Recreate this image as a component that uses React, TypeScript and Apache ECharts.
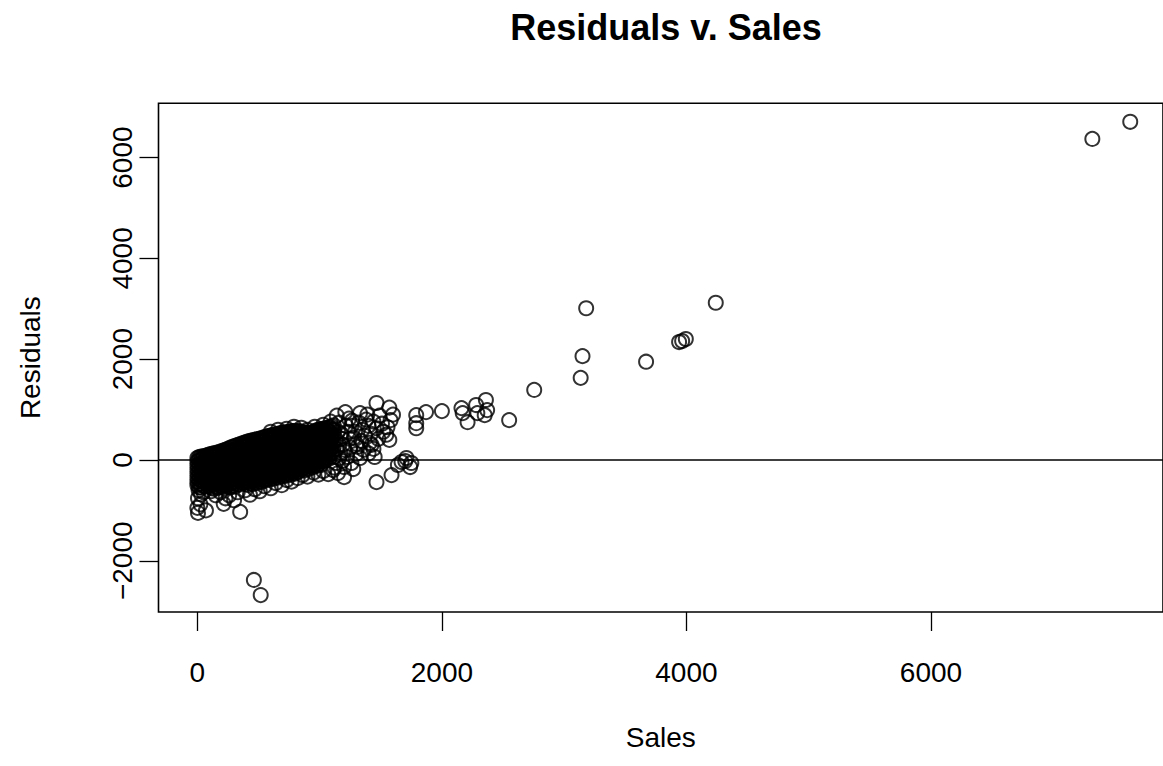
import React, { useEffect, useRef } from "react";
import * as echarts from "echarts";

const FONT = "'Liberation Sans', Arial, Helvetica, sans-serif";

const titleText = "Residuals v. Sales";
const xName = "Sales";
const yName = "Residuals";
const xTicks = [0, 2000, 4000, 6000];
const yTicks = [-2000, 0, 2000, 4000, 6000];

// Dense cloud near the origin: [sales, residuals of that sales column]
const clusterColumns: [number, number[]][] = [
  [0, [40, -30, -110, -190, -270, -350, -430, -500]],
  [30, [70, 0, -80, -160, -240, -320, -400, -480, -550]],
  [65, [80, 10, -60, -140, -220, -300, -380, -460, -530]],
  [100, [110, 30, -40, -120, -200, -280, -360, -440, -520]],
  [135, [130, 60, -20, -100, -180, -260, -340, -420, -500, -570]],
  [170, [150, 80, 0, -80, -160, -240, -320, -400, -480, -550]],
  [205, [180, 110, 30, -50, -130, -210, -290, -370, -450, -530]],
  [240, [210, 130, 50, -30, -110, -190, -270, -350, -430, -510]],
  [275, [250, 170, 90, 10, -70, -150, -230, -310, -390, -470, -540]],
  [310, [280, 200, 120, 40, -40, -120, -200, -280, -360, -440, -520]],
  [345, [310, 230, 150, 70, -10, -90, -170, -250, -330, -410, -490]],
  [380, [340, 260, 180, 100, 20, -60, -140, -220, -300, -380, -460]],
  [415, [370, 290, 210, 130, 50, -30, -110, -190, -270, -350, -430, -500]],
  [450, [390, 310, 230, 150, 70, -10, -90, -170, -250, -330, -410, -480]],
  [485, [410, 330, 250, 170, 90, 10, -70, -150, -230, -310, -390, -460]],
  [520, [430, 350, 270, 190, 110, 30, -50, -130, -210, -290, -370, -440]],
  [555, [460, 380, 300, 220, 140, 60, -20, -100, -180, -260, -340, -410]],
  [590, [480, 400, 320, 240, 160, 80, 0, -80, -160, -240, -320, -390]],
  [625, [500, 420, 340, 260, 180, 100, 20, -60, -140, -220, -300, -370]],
  [660, [520, 440, 360, 280, 200, 120, 40, -40, -120, -200, -280, -350]],
  [695, [540, 460, 380, 300, 220, 140, 60, -20, -100, -180, -260, -330]],
  [730, [550, 470, 390, 310, 230, 150, 70, -10, -90, -170, -250, -310]],
  [765, [570, 490, 410, 330, 250, 170, 90, 10, -70, -150, -230, -290]],
  [800, [580, 500, 420, 340, 260, 180, 100, 20, -60, -140, -210, -270]],
  [835, [570, 490, 410, 330, 250, 170, 90, 10, -70, -150, -220]],
  [870, [550, 470, 390, 310, 230, 150, 70, -10, -90, -160, -210]],
  [905, [530, 450, 370, 290, 210, 130, 50, -30, -110, -180]],
  [940, [550, 470, 390, 310, 230, 150, 70, -10, -90, -150]],
  [975, [590, 510, 430, 350, 270, 190, 110, 30, -50, -120]],
  [1010, [610, 530, 450, 370, 290, 210, 130, 50, -30, -100]],
  [1045, [630, 550, 470, 390, 310, 230, 150, 70, -10]],
  [1080, [650, 560, 470, 380, 290, 200, 110, 30]],
  [1115, [690, 590, 480, 370, 260, 150, 60]],
];

// More points of the same cloud, lying between the columns above
const clusterColumnsB: [number, number[]][] = [
  [15, [60, 10, -70, -150, -230, -310, -390, -470, -540]],
  [48, [75, 40, -40, -120, -200, -280, -360, -440, -510]],
  [82, [95, 50, -20, -100, -180, -260, -340, -420, -500]],
  [117, [120, 70, -10, -80, -160, -240, -320, -400, -480, -550]],
  [152, [140, 100, 20, -60, -140, -220, -300, -380, -460, -530]],
  [187, [165, 120, 40, -40, -120, -200, -280, -360, -440, -510]],
  [222, [195, 150, 70, -10, -90, -170, -250, -330, -410, -490, -560]],
  [257, [230, 170, 90, 10, -70, -150, -230, -310, -390, -470, -540]],
  [292, [265, 200, 130, 50, -30, -110, -190, -270, -350, -430, -500]],
  [327, [295, 240, 160, 80, 0, -80, -160, -240, -320, -400, -480]],
  [362, [325, 270, 190, 110, 30, -50, -130, -210, -290, -370, -450]],
  [397, [355, 300, 220, 140, 60, -20, -100, -180, -260, -340, -420, -480]],
  [432, [380, 330, 250, 170, 90, 10, -70, -150, -230, -310, -390, -460]],
  [467, [400, 350, 270, 190, 110, 30, -50, -130, -210, -290, -370, -440]],
  [502, [420, 370, 290, 210, 130, 50, -30, -110, -190, -270, -350, -420]],
  [537, [445, 390, 310, 230, 150, 70, -10, -90, -170, -250, -330, -400]],
  [572, [470, 420, 340, 260, 180, 100, 20, -60, -140, -220, -300, -370]],
  [607, [490, 440, 360, 280, 200, 120, 40, -40, -120, -200, -280, -350]],
  [642, [510, 460, 380, 300, 220, 140, 60, -20, -100, -180, -260, -330]],
  [677, [530, 480, 400, 320, 240, 160, 80, 0, -80, -160, -240, -310]],
  [712, [545, 500, 420, 340, 260, 180, 100, 20, -60, -140, -220, -290]],
  [747, [560, 510, 430, 350, 270, 190, 110, 30, -50, -130, -210, -270]],
  [782, [575, 530, 450, 370, 290, 210, 130, 50, -30, -110, -190, -250]],
  [817, [575, 530, 450, 370, 290, 210, 130, 50, -30, -110, -180, -240]],
  [852, [560, 510, 430, 350, 270, 190, 110, 30, -50, -120, -190]],
  [887, [540, 490, 410, 330, 250, 170, 90, 10, -60, -130]],
  [922, [540, 490, 410, 330, 250, 170, 90, 10, -60, -130]],
  [957, [570, 510, 430, 350, 270, 190, 110, 30, -40, -110]],
  [992, [600, 550, 470, 390, 310, 230, 150, 70, -10, -80]],
  [1027, [620, 570, 490, 410, 330, 250, 170, 90, 20]],
  [1062, [640, 590, 510, 430, 350, 270, 190, 110, 40]],
  [1097, [670, 610, 520, 420, 330, 240, 150]],
];

// Scattered points below the dense cloud
const lowerFringe: [number, number][] = [
  [10, -600], [30, -680], [5, -760], [50, -640], [0, -950], [25, -880], [70, -1000],
  [5, -1050], [110, -620], [150, -700], [190, -640], [215, -870], [230, -760],
  [260, -700], [300, -800], [350, -1030], [330, -640], [390, -600], [430, -690],
  [470, -580], [510, -620], [550, -520], [600, -560], [640, -460], [690, -500],
  [730, -400], [770, -430], [820, -360], [860, -300], [900, -330], [950, -250],
  [990, -290], [1030, -220], [1070, -280], [1110, -200], [1150, -260],
];

// Scattered points above the dense cloud
const upperFringe: [number, number][] = [
  [600, 560], [660, 600], [730, 620], [790, 660], [850, 640], [900, 600], [960, 660],
  [1030, 700], [1090, 760], [1140, 880], [1160, 740], [1150, 560], [1180, 420],
  [1190, 300], [1170, 150], [1160, 40],
];

// Points where the cloud thins out, around 1100 to 1450 in sales
const thinningEdge: [number, number][] = [
  [1130, 380], [1140, 220], [1135, -60], [1160, 300], [1175, 520], [1185, -20],
  [1205, 200], [1215, 680], [1225, 60], [1245, 420], [1265, 780], [1275, -180],
  [1290, 560], [1310, 260], [1340, 380], [1370, 480], [1390, 900], [1410, 340],
  [1440, 220], [1120, -150], [1100, 480],
];

// Looser group between about 1200 and 1600 in sales
const midGroup: [number, number][] = [
  [1210, 950], [1240, 820], [1260, 680], [1230, 560], [1280, 440], [1300, 320],
  [1330, 930], [1320, 740], [1350, 600], [1380, 800], [1400, 680], [1420, 520],
  [1425, 300], [1440, 760], [1465, 630], [1465, 1130], [1490, 880], [1510, 720],
  [1545, 500], [1555, 650], [1570, 400], [1570, 1040], [1600, 900], [1580, 790],
  [1520, 560], [1480, 420], [1360, 200], [1300, 120], [1250, 250], [1400, 130],
  [1200, -140], [1200, -340], [1260, -60], [1330, 40], [1450, 60],
  [1465, -440], [1588, -300],
];

// Points near the zero line and the upper band, 1600 to 2600
const nearZero: [number, number][] = [
  [1640, -100], [1670, -40], [1710, 40], [1740, -140], [1750, -60], [1700, -20],
];
const upperBand: [number, number][] = [
  [1790, 890], [1790, 730], [1790, 630], [1870, 950], [2000, 970], [2160, 1030],
  [2170, 930], [2210, 750], [2280, 1090], [2360, 1190], [2370, 990], [2290, 930],
  [2350, 890], [2550, 790],
];

// Large-sales points and the two low outliers
const farPoints: [number, number][] = [
  [2755, 1390], [3180, 3010], [3150, 2060], [3135, 1630], [3670, 1950],
  [3940, 2340], [3965, 2360], [3995, 2400], [4240, 3120], [7320, 6370], [7630, 6710],
];
const lowOutliers: [number, number][] = [
  [462, -2380], [518, -2680],
];

export default function App() {
  const ref = useRef<HTMLDivElement>(null);

  useEffect(() => {
    if (!ref.current) return;
    const chart = echarts.init(ref.current, undefined, { renderer: "svg" });

    const points: [number, number][] = [];
    clusterColumns.forEach(([x, ys]) => ys.forEach((y) => points.push([x, y])));
    clusterColumnsB.forEach(([x, ys]) => ys.forEach((y) => points.push([x, y])));
    points.push(
      ...lowerFringe,
      ...upperFringe,
      ...thinningEdge,
      ...midGroup,
      ...nearZero,
      ...upperBand,
      ...farPoints,
      ...lowOutliers
    );

    const labelStyle = { fontFamily: FONT, fontSize: 28, color: "#000" };

    chart.setOption({
      animation: false,
      backgroundColor: "#fff",
      title: {
        text: titleText,
        left: 661,
        top: 4,
        textAlign: "center",
        textStyle: { fontFamily: FONT, fontWeight: "bold", fontSize: 36, color: "#000" },
      },
      grid: {
        left: 158.5,
        top: 103.3,
        right: -2,
        bottom: 154,
        show: true,
        borderColor: "#000",
        borderWidth: 1.6,
        backgroundColor: "transparent",
      },
      xAxis: {
        type: "value",
        min: -318,
        max: 7898,
        axisLine: { show: false, onZero: false },
        splitLine: { show: false },
        axisTick: {
          show: true,
          length: 19,
          customValues: xTicks,
          lineStyle: { color: "#000", width: 1.3 },
        },
        axisLabel: {
          ...labelStyle,
          customValues: xTicks,
          margin: 46,
          formatter: (v: number) => String(v),
        },
        name: xName,
        nameLocation: "middle",
        nameGap: 111,
        nameTextStyle: labelStyle,
      },
      yAxis: {
        type: "value",
        min: -3016,
        max: 7077,
        axisLine: { show: false, onZero: false },
        splitLine: { show: false },
        axisTick: {
          show: true,
          length: 19,
          customValues: yTicks,
          lineStyle: { color: "#000", width: 1.3 },
        },
        axisLabel: {
          ...labelStyle,
          customValues: yTicks,
          rotate: 90,
          margin: 22,
          formatter: (v: number) => (v < 0 ? "\u2212" + Math.abs(v) : String(v)),
        },
        name: yName,
        nameLocation: "middle",
        nameGap: 114,
        nameTextStyle: labelStyle,
      },
      series: [
        {
          type: "scatter",
          data: points,
          symbol: "circle",
          symbolSize: 14,
          itemStyle: { color: "rgba(0,0,0,0)", borderColor: "#000", borderWidth: 2 },
          emphasis: { disabled: true },
          markLine: {
            silent: true,
            symbol: ["none", "none"],
            label: { show: false },
            lineStyle: { color: "#000", width: 1.6, type: "solid" },
            data: [{ yAxis: 0 }],
          },
        },
      ],
    });

    return () => chart.dispose();
  }, []);

  return (
    <div
      ref={ref}
      style={{ position: "fixed", left: 0, top: 0, width: 1163, height: 766, background: "#fff" }}
    />
  );
}
